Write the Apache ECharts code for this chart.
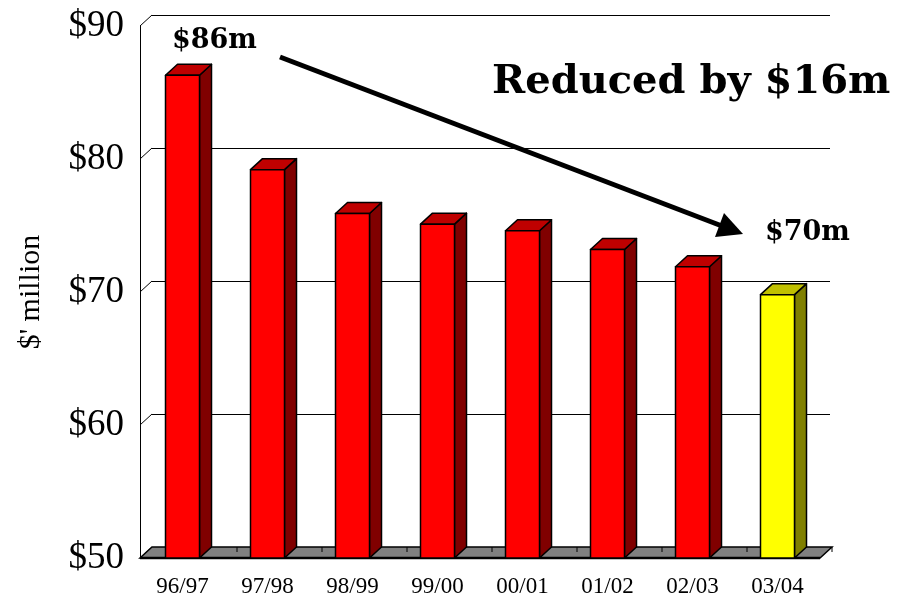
<!DOCTYPE html>
<html>
<head>
<meta charset="utf-8">
<script src="https://cdn.jsdelivr.net/npm/echarts@6/dist/echarts.min.js"></script>
<style>
  html, body { margin: 0; padding: 0; background: #fff; }
  #chart { width: 906px; height: 601px; }
</style>
</head>
<body>
<div id="chart"></div>
<script>
  // data
  var years = ['96/97', '97/98', '98/99', '99/00', '00/01', '01/02', '02/03', '03/04']
  var spend = [86.3, 79.2, 75.9, 75.1, 74.6, 73.2, 71.9, 69.8]
  var yTicks = [50, 60, 70, 80, 90]

  var DX = 12
  var DY = -11
  var serif = '"Liberation Serif", "Times New Roman", serif'
  var boldSerif = '"DejaVu Serif", serif'

  var chart = echarts.init(document.getElementById('chart'))

  function barColors (i) {
    if (i === years.length - 1) {
      return { front: '#ffff00', top: '#c0c000', side: '#808000' }
    }
    return { front: '#ff0000', top: '#bf0000', side: '#800000' }
  }

  chart.setOption({
    animation: false,
    backgroundColor: '#fff',
    grid: [
      { left: 140, top: 26, width: 680, height: 532 },
      { left: 152, top: 15, width: 678, height: 532 }
    ],
    xAxis: [
      {
        type: 'category',
        data: years,
        gridIndex: 0,
        axisLine: { show: false },
        axisTick: { show: false },
        axisLabel: { fontFamily: serif, fontSize: 23, color: '#000', margin: 17 }
      },
      { type: 'value', gridIndex: 1, min: 0, max: 1, show: false }
    ],
    yAxis: [
      {
        type: 'value',
        gridIndex: 0,
        min: 50,
        max: 90,
        interval: 10,
        name: '$\' million',
        nameLocation: 'middle',
        nameGap: 94,
        nameTextStyle: { fontFamily: serif, fontSize: 30, color: '#000' },
        axisLine: { show: true, lineStyle: { color: '#000', width: 1 } },
        axisTick: { show: false },
        splitLine: { show: false },
        axisLabel: {
          fontFamily: serif,
          fontSize: 37,
          color: '#000',
          margin: 16,
          formatter: function (v) { return '$' + v }
        }
      },
      {
        type: 'value',
        gridIndex: 1,
        min: 50,
        max: 90,
        interval: 10,
        axisLine: { show: false },
        axisTick: { show: false },
        axisLabel: { show: false },
        splitLine: { show: true, lineStyle: { color: '#000', width: 1 } }
      }
    ],
    series: [
      {
        // side wall diagonals at each tick
        type: 'custom',
        xAxisIndex: 0,
        yAxisIndex: 0,
        data: yTicks.map(function (t) { return [0, t] }),
        renderItem: function (params, api) {
          var cs = params.coordSys
          var y = api.coord([0, api.value(1)])[1]
          return {
            type: 'line',
            shape: { x1: cs.x, y1: y, x2: cs.x + DX, y2: y + DY },
            style: { stroke: '#000', lineWidth: 1 }
          }
        },
        z: 1
      },
      {
        // floor
        type: 'custom',
        xAxisIndex: 0,
        yAxisIndex: 0,
        data: [[0, 50]],
        renderItem: function (params, api) {
          var cs = params.coordSys
          var y = api.coord([0, 50])[1]
          var x0 = cs.x
          var x1 = cs.x + cs.width
          var step = cs.width / years.length
          var kids = [{
            type: 'polygon',
            shape: { points: [[x0, y], [x1, y], [x1 + DX, y + DY], [x0 + DX, y + DY]] },
            style: { fill: '#808080', stroke: '#000', lineWidth: 1.5 }
          }]
          for (var k = 1; k <= years.length; k++) {
            var xx = x0 + step * k + DX
            kids.push({
              type: 'line',
              shape: { x1: xx, y1: y + DY, x2: xx, y2: y + DY + 5 },
              style: { stroke: '#000', lineWidth: 1 }
            })
          }
          kids.push({
            type: 'line',
            shape: { x1: x0, y1: y, x2: x1, y2: y },
            style: { stroke: '#000', lineWidth: 2.5 }
          })
          return { type: 'group', children: kids }
        },
        z: 2
      },
      {
        name: 'spend',
        type: 'custom',
        xAxisIndex: 0,
        yAxisIndex: 0,
        data: spend.map(function (v, i) { return [i, v] }),
        renderItem: function (params, api) {
          var i = api.value(0)
          var top = api.coord([i, api.value(1)])
          var base = api.coord([i, 50])
          var half = 17
          var xl = top[0] - half
          var xr = top[0] + half
          var c = barColors(params.dataIndex)
          var line = { stroke: '#000', lineWidth: 1.5, lineJoin: 'round' }
          return {
            type: 'group',
            children: [
              {
                type: 'polygon',
                shape: { points: [[xr, top[1]], [xr + DX, top[1] + DY], [xr + DX, base[1] + DY], [xr, base[1]]] },
                style: Object.assign({ fill: c.side }, line)
              },
              {
                type: 'polygon',
                shape: { points: [[xl, top[1]], [xr, top[1]], [xr + DX, top[1] + DY], [xl + DX, top[1] + DY]] },
                style: Object.assign({ fill: c.top }, line)
              },
              {
                type: 'rect',
                shape: { x: xl, y: top[1], width: xr - xl, height: base[1] - top[1] },
                style: Object.assign({ fill: c.front }, line)
              }
            ]
          }
        },
        z: 3
      }
    ],
    graphic: [
      {
        type: 'text',
        left: 172,
        top: 27,
        style: { text: '$86m', font: 'bold 27px ' + boldSerif, fill: '#000' },
        z: 10
      },
      {
        type: 'text',
        left: 765,
        top: 219,
        style: { text: '$70m', font: 'bold 27px ' + boldSerif, fill: '#000' },
        z: 10
      },
      {
        type: 'text',
        left: 492,
        top: 63,
        style: { text: 'Reduced by $16m', font: 'bold 40px ' + boldSerif, fill: '#000' },
        z: 10
      },
      {
        type: 'line',
        shape: { x1: 280, y1: 57, x2: 722, y2: 226 },
        style: { stroke: '#000', lineWidth: 5 },
        z: 10
      },
      {
        type: 'polygon',
        shape: { points: [[743, 234], [724, 213], [715, 237]] },
        style: { fill: '#000' },
        z: 10
      }
    ]
  })
</script>
</body>
</html>
